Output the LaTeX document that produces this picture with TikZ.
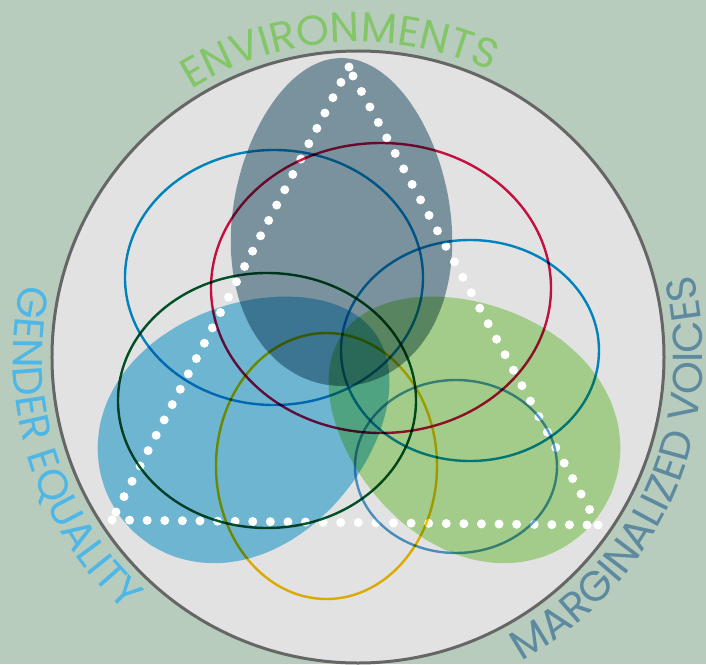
\documentclass[tikz,border=0pt]{standalone}
\usepackage{fontspec}
\newfontfamily\arcfont{Poppins}
\usetikzlibrary{decorations.text,calc}
\definecolor{sage}{RGB}{184,204,190}
\definecolor{ringfill}{RGB}{226,226,226}
\definecolor{ringgray}{RGB}{102,102,102}
\definecolor{slatefill}{RGB}{138,165,178}
\definecolor{bluefill}{RGB}{125,205,237}
\definecolor{greenfill}{RGB}{184,231,156}
\definecolor{lineblue}{RGB}{0,147,214}
\definecolor{linered}{RGB}{217,20,72}
\definecolor{linegreen}{RGB}{0,90,45}
\definecolor{linegold}{RGB}{248,192,0}
\definecolor{linesteel}{RGB}{85,158,209}
\definecolor{envgreen}{RGB}{130,198,104}
\definecolor{gendblue}{RGB}{78,183,230}
\definecolor{margslate}{RGB}{94,138,160}
\tikzset{
	ring/.style      = {draw=ringgray, line width=3pt, fill=ringfill},
	blob/.style      = {blend mode=multiply},
	eggplot/.style   = {smooth cycle, variable=\t, samples=36, domain=0:350},
	ringline/.style  = {line width=2.4pt, blend mode=multiply},
	whitedot/.style  = {fill=white},
	arclabel/.style 2 args = {decorate, decoration={text along path, text align=center,
		text color=#1, text={|\arcfont\fontsize{42}{42}\selectfont|#2}}}
}

\begin{document}
\begin{tikzpicture}[x=1pt, y=1pt]
	\fill[sage] (-358,-307) rectangle (348,357);
	\useasboundingbox (-358,-307) rectangle (348,357);

	\draw[ring] (0,0) circle (306);

	% labels
	\path[arclabel={envgreen}{ENVIRONMENTS}]
		(138.5:315) arc[start angle=138.5, end angle=48.5, radius=315];
	\path[arclabel={gendblue}{GENDER EQUALITY}]
		(152.7:345) arc[start angle=152.7, end angle=242.7, radius=345];
	\path[arclabel={margslate}{MARGINALIZED VOICES}]
		(-73.9:345) arc[start angle=-73.9, end angle=26.1, radius=345];

	\begin{scope}[shift={(-16.5,135)}]
		\fill[blob, fill=slatefill] plot[eggplot] ({110*cos(\t)*(1-0.12*sin(\t))},{164*sin(\t)});
	\end{scope}
	\begin{scope}[shift={(-111,-67)}, rotate=-55]
		\fill[blob, fill=bluefill] plot[eggplot] ({120*cos(\t)*(1-0.12*sin(\t))},{157*sin(\t)});
	\end{scope}
	\begin{scope}[shift={(113,-67)}, rotate=55]
		\fill[blob, fill=greenfill] plot[eggplot] ({120*cos(\t)*(1-0.12*sin(\t))},{157*sin(\t)});
	\end{scope}

	% dotted triangle
	\coordinate (apexL) at (-9,290);
	\coordinate (apexR) at (-5,281);
	\coordinate (leftE) at (-242,-155);
	\coordinate (baseL) at (-246,-163);
	\coordinate (baseR) at (229,-168);
	\coordinate (rightE) at (240,-168);
	\foreach \i in {0,...,29}
		\fill[whitedot] ($(apexL)!\i/29!(leftE)$) circle (4.5);
	\foreach \i in {0,...,29}
		\fill[whitedot] ($(apexR)!\i/29!(rightE)$) circle (4.5);
	\foreach \i in {0,...,27}
		\fill[whitedot] ($(baseL)!\i/27!(baseR)$) circle (4.5);

	\draw[ringline, lineblue] (-84,79.5) ellipse [x radius=149, y radius=127.5];
	\draw[ringline, linered] (23,69) ellipse [x radius=170, y radius=145];
	\draw[ringline, lineblue] (112,6.5) ellipse [x radius=129, y radius=110.5];
	\draw[ringline, linegreen] (-91,-43.5) ellipse [x radius=149, y radius=127.5];
	\draw[ringline, linegold] (-31.5,-109) ellipse [x radius=110.5, y radius=133];
	\draw[ringline, linesteel] (98,-109.5) ellipse [x radius=101, y radius=86.5];
\end{tikzpicture}
\end{document}
